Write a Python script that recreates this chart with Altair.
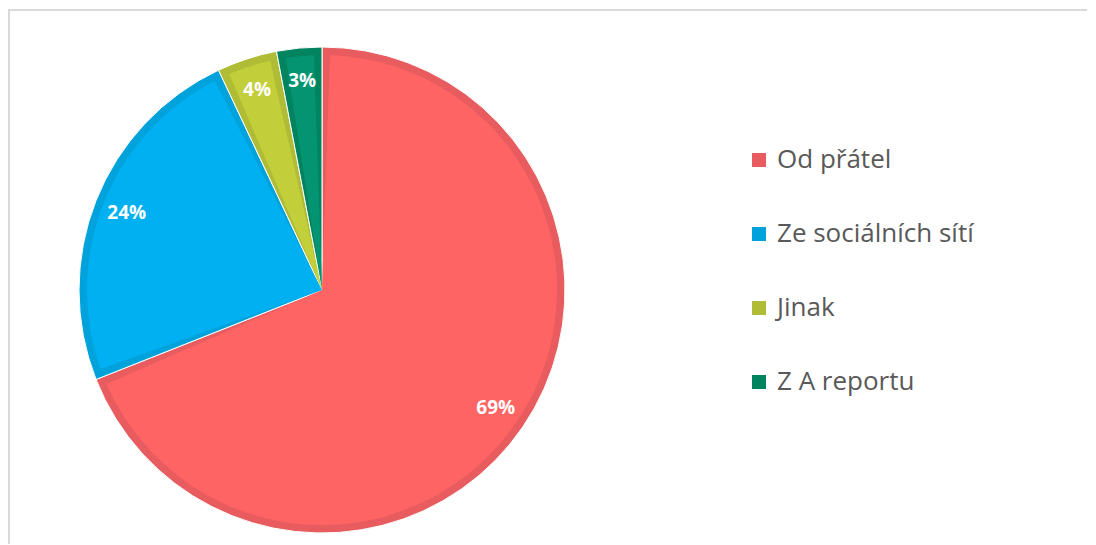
import altair as alt
import pandas as pd

categories = ["Od přátel", "Ze sociálních sítí", "Jinak", "Z A reportu"]
shares = [69, 24, 4, 3]
labels = ["69%", "24%", "4%", "3%"]
order_idx = [0, 1, 2, 3]
fill_colors = ["#FF6464", "#00B0F0", "#C2CE3A", "#049472"]
edge_colors = ["#E85C60", "#00A2DC", "#B0BC36", "#00845F"]

df = pd.DataFrame({"cat": categories, "share": shares, "label": labels, "idx": order_idx})

cx, cy = 313, 280
R = 243
BW = 8

base = alt.Chart(df).encode(
    theta=alt.Theta("share:Q", stack=True),
    order=alt.Order("idx:Q"),
)

frame = alt.Chart(pd.DataFrame({"f": [0]})).mark_rect(
    fill="white", stroke="#d9d9d9", strokeWidth=2
).encode(
    x=alt.value(0), y=alt.value(0), x2=alt.value(1300), y2=alt.value(800)
)

outer = base.mark_arc(radius=R, stroke="white", strokeWidth=1).encode(
    x=alt.value(cx),
    y=alt.value(cy),
    color=alt.Color(
        "cat:N",
        sort=categories,
        scale=alt.Scale(domain=categories, range=edge_colors),
        legend=alt.Legend(
            title=None,
            orient="none",
            legendX=737,
            legendY=137,
            symbolType="square",
            symbolSize=196,
            symbolStrokeWidth=0,
            labelFont="Open Sans",
            labelFontSize=26,
            labelColor="#595959",
            labelOffset=5,
            rowPadding=48,
            padding=0,
            labelLimit=400,
        ),
    ),
)

inner = base.mark_arc(radius=R - BW, padAngle=2 * BW / (R - BW)).encode(
    x=alt.value(cx),
    y=alt.value(cy),
    fill=alt.Fill("cat:N", scale=alt.Scale(domain=categories, range=fill_colors), legend=None),
)

text = base.mark_text(
    radius=210, font="Open Sans", fontSize=19, fontWeight="bold", color="white"
).encode(
    x=alt.value(cx),
    y=alt.value(cy),
    text="label:N",
)

chart = (
    alt.layer(frame, outer, inner, text)
    .resolve_scale(color="independent", fill="independent")
    .properties(
        width=1078,
        height=534,
        padding={"left": 1, "top": 2, "right": 0, "bottom": 0},
        autosize=alt.AutoSizeParams(type="none"),
        background="white",
    )
    .configure_view(stroke=None)
)

chart.save("out.html", embed_options={"renderer": "svg", "actions": False})
